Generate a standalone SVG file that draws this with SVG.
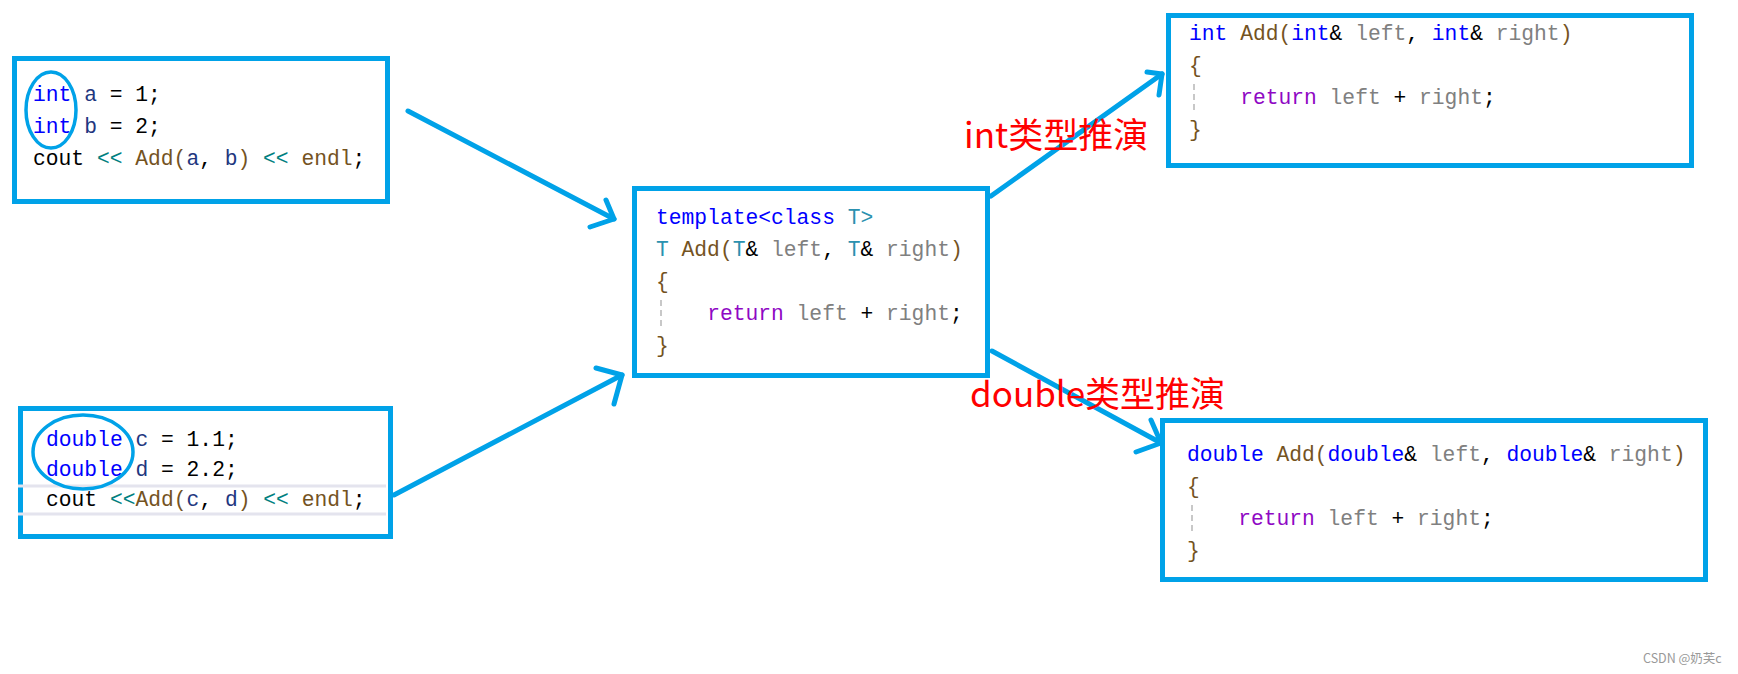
<svg xmlns="http://www.w3.org/2000/svg" width="1738" height="674" viewBox="0 0 1738 674">
<style>
.box{fill:#ffffff;stroke:#00a2e8;stroke-width:5}
.ring{fill:none;stroke:#00a2e8;stroke-width:3.5}
.conn{fill:none;stroke:#00a2e8;stroke-width:5;stroke-linecap:round;stroke-linejoin:round}
.code{font-family:"Liberation Mono","DejaVu Sans Mono",monospace;font-size:21.3px;fill:#000000;white-space:pre}
.kw{fill:#0000ff}.vr{fill:#1f377f}.op{fill:#008080}.fn{fill:#74531f}.ty{fill:#2b91af}.pm{fill:#808080}.rt{fill:#8f08c4}
.guide{stroke:#c8c8c8;stroke-width:2;stroke-dasharray:6 4}
.hl{stroke:#e4e4ee;stroke-width:3}
.lbl{font-family:"Noto Sans CJK SC","Noto Sans",sans-serif;font-size:35px;fill:#ff0000}
.wm{font-family:"Noto Sans CJK SC","Liberation Sans",sans-serif;font-size:12.5px;fill:#999999}
</style>
<rect width="1738" height="674" fill="#ffffff"/>
<g id="box-int-call">
<rect class="box" x="14.5" y="58.5" width="373" height="143"/>
<text class="code" x="33" y="101" xml:space="preserve"><tspan class="kw">int</tspan> <tspan class="vr">a</tspan> = 1;</text>
<text class="code" x="33" y="133" xml:space="preserve"><tspan class="kw">int</tspan> <tspan class="vr">b</tspan> = 2;</text>
<text class="code" x="33" y="165" xml:space="preserve">cout <tspan class="op">&lt;&lt;</tspan> <tspan class="fn">Add(</tspan><tspan class="vr">a</tspan>, <tspan class="vr">b</tspan><tspan class="fn">)</tspan> <tspan class="op">&lt;&lt;</tspan> <tspan class="fn">endl</tspan>;</text>
<ellipse class="ring" cx="51" cy="110" rx="25" ry="38"/>
</g>
<g id="box-double-call">
<rect class="box" x="20.5" y="408.5" width="370" height="128"/>
<line class="hl" x1="18" y1="486" x2="386" y2="486"/>
<line class="hl" x1="18" y1="514" x2="386" y2="514"/>
<text class="code" x="46" y="446" xml:space="preserve"><tspan class="kw">double</tspan> <tspan class="vr">c</tspan> = 1.1;</text>
<text class="code" x="46" y="476" xml:space="preserve"><tspan class="kw">double</tspan> <tspan class="vr">d</tspan> = 2.2;</text>
<text class="code" x="46" y="506" xml:space="preserve">cout <tspan class="op">&lt;&lt;</tspan><tspan class="fn">Add(</tspan><tspan class="vr">c</tspan>, <tspan class="vr">d</tspan><tspan class="fn">)</tspan> <tspan class="op">&lt;&lt;</tspan> <tspan class="fn">endl</tspan>;</text>
<ellipse class="ring" cx="83" cy="452" rx="50" ry="37"/>
</g>
<g id="box-template">
<rect class="box" x="634.5" y="188.5" width="353" height="187"/>
<text class="code" x="656" y="224" xml:space="preserve"><tspan class="kw">template&lt;class</tspan> <tspan class="ty">T&gt;</tspan></text>
<text class="code" x="656" y="256" xml:space="preserve"><tspan class="ty">T</tspan> <tspan class="fn">Add(</tspan><tspan class="ty">T</tspan>&amp; <tspan class="pm">left</tspan>, <tspan class="ty">T</tspan>&amp; <tspan class="pm">right</tspan><tspan class="fn">)</tspan></text>
<text class="code" x="656" y="288" xml:space="preserve"><tspan class="fn">{</tspan></text>
<line class="guide" x1="661" y1="300" x2="661" y2="328"/>
<text class="code" x="656" y="320" xml:space="preserve">    <tspan class="rt">return</tspan> <tspan class="pm">left</tspan> + <tspan class="pm">right</tspan>;</text>
<text class="code" x="656" y="352" xml:space="preserve"><tspan class="fn">}</tspan></text>
</g>
<g id="box-int-add">
<rect class="box" x="1168.5" y="15.5" width="523" height="150"/>
<text class="code" x="1189" y="40" xml:space="preserve"><tspan class="kw">int</tspan> <tspan class="fn">Add(</tspan><tspan class="kw">int</tspan>&amp; <tspan class="pm">left</tspan>, <tspan class="kw">int</tspan>&amp; <tspan class="pm">right</tspan><tspan class="fn">)</tspan></text>
<text class="code" x="1189" y="72" xml:space="preserve"><tspan class="fn">{</tspan></text>
<line class="guide" x1="1194" y1="84" x2="1194" y2="112"/>
<text class="code" x="1189" y="104" xml:space="preserve">    <tspan class="rt">return</tspan> <tspan class="pm">left</tspan> + <tspan class="pm">right</tspan>;</text>
<text class="code" x="1189" y="136" xml:space="preserve"><tspan class="fn">}</tspan></text>
</g>
<g id="box-double-add">
<rect class="box" x="1162.5" y="420.5" width="543" height="159"/>
<text class="code" x="1187" y="461" xml:space="preserve"><tspan class="kw">double</tspan> <tspan class="fn">Add(</tspan><tspan class="kw">double</tspan>&amp; <tspan class="pm">left</tspan>, <tspan class="kw">double</tspan>&amp; <tspan class="pm">right</tspan><tspan class="fn">)</tspan></text>
<text class="code" x="1187" y="493" xml:space="preserve"><tspan class="fn">{</tspan></text>
<line class="guide" x1="1192" y1="505" x2="1192" y2="533"/>
<text class="code" x="1187" y="525" xml:space="preserve">    <tspan class="rt">return</tspan> <tspan class="pm">left</tspan> + <tspan class="pm">right</tspan>;</text>
<text class="code" x="1187" y="557" xml:space="preserve"><tspan class="fn">}</tspan></text>
</g>
<g id="connectors">
<line class="conn" x1="408" y1="111" x2="614" y2="219"/>
<polyline class="conn" points="606,200 614,219 590,227"/>
<line class="conn" x1="394" y1="495" x2="622" y2="375"/>
<polyline class="conn" points="596,368 622,375 614,404"/>
<line class="conn" x1="991" y1="196" x2="1162" y2="74"/>
<polyline class="conn" points="1147,72 1162,74 1159,95"/>
<line class="conn" x1="992" y1="351" x2="1161" y2="443"/>
<polyline class="conn" points="1151,420 1161,443 1136,452"/>
</g>
<g id="labels">
<text class="lbl" x="964" y="148">int类型推演</text>
<text class="lbl" x="970" y="407">double类型推演</text>
</g>
<text class="wm" x="1643" y="663">CSDN @奶芙c</text>
</svg>
